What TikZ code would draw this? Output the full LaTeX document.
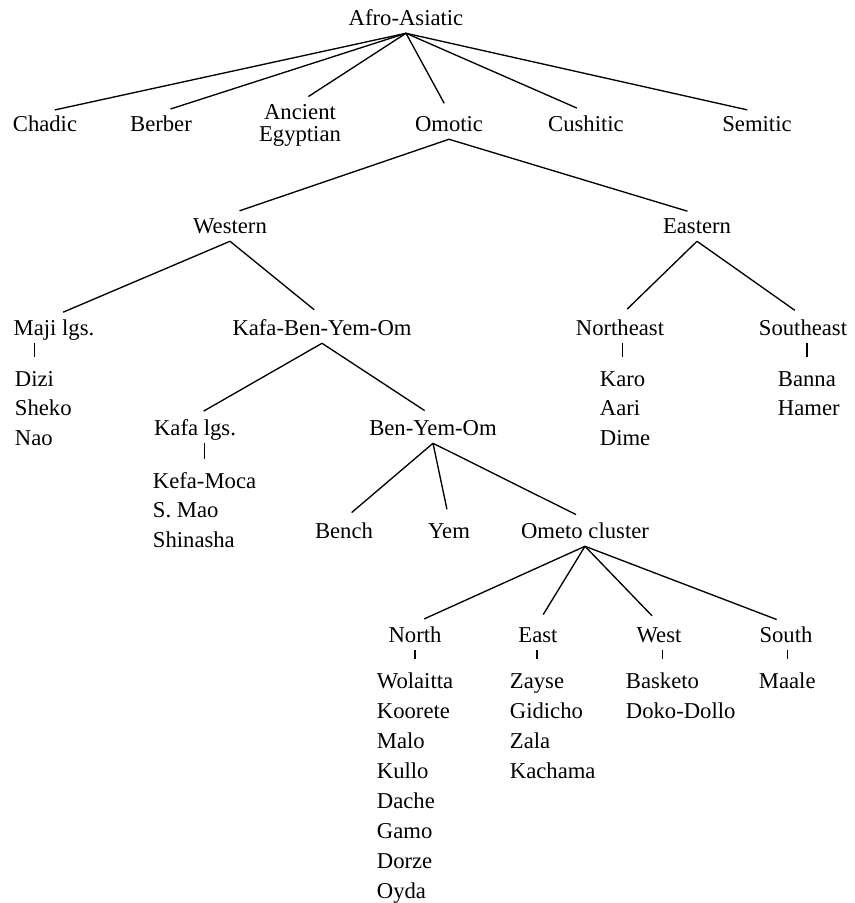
\documentclass[tikz,border=0pt]{standalone}
\usepackage{fontspec}
\setmainfont{Liberation Serif}
\usepackage{tikz}
\usetikzlibrary{calc}

\begin{document}
\begin{tikzpicture}[x=0.75pt, y=-0.75pt,
    every node/.style={font=\fontsize{17}{21}\selectfont},
    grp/.style={anchor=base, inner sep=2pt, text height=12pt, text depth=4pt},
    lang/.style={anchor=base west, inner sep=2pt, text height=12pt, text depth=4pt},
    branch/.style={line width=1pt, shorten >=7.5pt}]
    \useasboundingbox (0,0) rectangle (854,903);

    % Top level
    \node[grp] (afro) at (406,25) {Afro-Asiatic};
    \node[grp] (chadic) at (45,131) {Chadic};
    \node[grp] (berber) at (161,131) {Berber};
    \node[anchor=north, align=center, inner sep=2pt, font=\fontsize{17}{16.5}\selectfont] (egypt) at (300,102) {Ancient\\Egyptian};
    \node[grp] (omotic) at (449,131) {Omotic};
    \node[grp] (cushitic) at (586,131) {Cushitic};
    \node[grp] (semitic) at (757,131) {Semitic};
    \foreach \c in {chadic,berber,egypt,omotic,cushitic,semitic} {
        \draw[branch] (afro.south) -- (\c.north);
    }

    % Omotic branches
    \node[grp] (western) at (230,233) {Western};
    \node[grp] (eastern) at (697,233) {Eastern};
    \draw[branch] (omotic.south) -- (western.north);
    \draw[branch] (omotic.south) -- (eastern.north);

    \node[grp] (maji) at (54,335) {Maji lgs.};
    \node[grp] (kbyo) at (322,335) {Kafa-Ben-Yem-Om};
    \node[grp] (neast) at (620,335) {Northeast};
    \node[grp] (seast) at (803,335) {Southeast};
    \draw[branch] (western.south) -- (maji.north);
    \draw[branch] (western.south) -- (kbyo.north);
    \draw[branch] (eastern.south) -- (neast.north);
    \draw[branch] (eastern.south) -- (seast.north);

    \node[grp] (kafa) at (195,435) {Kafa lgs.};
    \node[grp] (byo) at (433,435) {Ben-Yem-Om};
    \draw[branch] (kbyo.south) -- (kafa.north);
    \draw[branch] (kbyo.south) -- (byo.north);

    \node[grp] (bench) at (344,538) {Bench};
    \node[grp] (yem) at (449,538) {Yem};
    \node[grp] (ometo) at (585,538) {Ometo cluster};
    \foreach \c in {bench,yem,ometo} {
        \draw[branch] (byo.south) -- (\c.north);
    }

    \node[grp] (north) at (415,642) {North};
    \node[grp] (east) at (538,642) {East};
    \node[grp] (west) at (659,642) {West};
    \node[grp] (south) at (786,642) {South};
    \foreach \c in {north,east,west,south} {
        \draw[branch] (ometo.south) -- (\c.north);
    }

    % Language lists
    \foreach \l [count=\k from 0] in {Dizi,Sheko,Nao}
        \node[lang] (maj\k) at (12,386+29.5*\k) {\l};
    \foreach \l [count=\k from 0] in {Karo,Aari,Dime}
        \node[lang] (ne\k) at (597,386+29.5*\k) {\l};
    \foreach \l [count=\k from 0] in {Banna,Hamer}
        \node[lang] (se\k) at (775,386+29.5*\k) {\l};
    \foreach \l [count=\k from 0] in {Kefa-Moca,S. Mao,Shinasha}
        \node[lang] (kf\k) at (150,488+29.5*\k) {\l};
    \foreach \l [count=\k from 0] in {Wolaitta,Koorete,Malo,Kullo,Dache,Gamo,Dorze,Oyda}
        \node[lang] (no\k) at (374,688+30*\k) {\l};
    \foreach \l [count=\k from 0] in {Zayse,Gidicho,Zala,Kachama}
        \node[lang] (ea\k) at (507,688+30*\k) {\l};
    \foreach \l [count=\k from 0] in {Basketo,Doko-Dollo}
        \node[lang] (we\k) at (623,688+30*\k) {\l};
    \node[lang] (so0) at (756,688) {Maale};

    % Ticks
    \draw[branch] (maj0.north |- maji.south) -- (maj0.north);
    \draw[branch] (ne0.north |- neast.south) -- (ne0.north);
    \draw[branch] (se0.north |- seast.south) -- (se0.north);
    \draw[branch] (kf0.north |- kafa.south) -- (kf0.north);
    \draw[branch] (no0.north |- north.south) -- (no0.north);
    \draw[branch] (ea0.north |- east.south) -- (ea0.north);
    \draw[branch] (we0.north |- west.south) -- (we0.north);
    \draw[branch] (so0.north |- south.south) -- (so0.north);
\end{tikzpicture}
\end{document}
